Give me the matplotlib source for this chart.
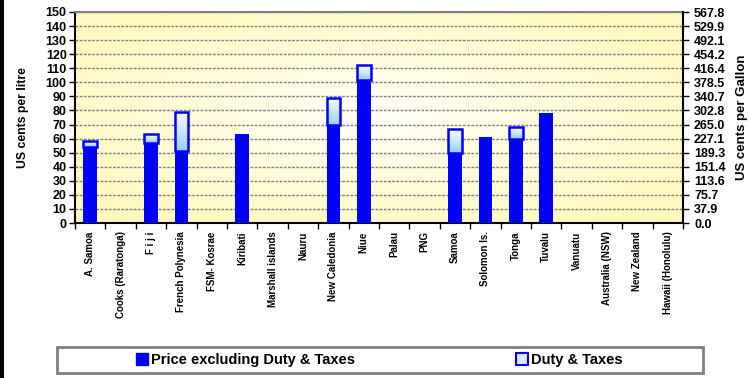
import numpy as np
import matplotlib
matplotlib.use("Agg")
import matplotlib.pyplot as plt
from matplotlib.patches import Rectangle

plt.rcParams["font.family"] = ["Liberation Sans", "DejaVu Sans"]
plt.rcParams["font.weight"] = "bold"

countries = ["A. Samoa", "Cooks (Raratonga)", "F i j i", "French Polynesia", "FSM- Kosrae",
             "Kiribati", "Marshall islands", "Nauru", "New Caledonia", "Niue", "Palau", "PNG",
             "Samoa", "Solomon Is.", "Tonga", "Tuvalu", "Vanuatu", "Australia (NSW)",
             "New Zealand", "Hawaii (Honolulu)"]
price_ex = [54, 0, 57, 51, 0, 63, 0, 0, 70, 102, 0, 0, 50, 61, 60, 78, 0, 0, 0, 0]
duty = [4, 0, 6, 28, 0, 0, 0, 0, 19, 10, 0, 0, 17, 0, 8, 0, 0, 0, 0, 0]
# 1 US gallon = 3.785 litres
ml_per_gallon = 3785

fig = plt.figure(figsize=(7.49, 3.78), dpi=100)
ax = fig.add_axes([75 / 749, 1 - 223 / 378, 608 / 749, 211 / 378])

# pale yellow background with lighter centre
yy, xx = np.mgrid[-1:1:200j, -1:1:200j]
r = np.clip(np.sqrt(xx ** 2 + yy ** 2) / 1.2, 0, 1)
c0 = np.array([1.0, 1.0, 0.97])
c1 = np.array([1.0, 0.98, 0.75])
bg = c0 + (c1 - c0) * r[..., None]
ax.imshow(bg, extent=[-0.5, len(countries) - 0.5, 0, 150], aspect="auto", zorder=0)

x = np.arange(len(countries))
w = 0.45
ax.bar(x, price_ex, width=w, color="#0000ff", edgecolor="none", zorder=3)

# duty segments: gradient fill with blue outline
grad = np.linspace(1, 0, 100)[:, None]
gcol = np.dstack([0.6 + 0.4 * grad, 0.8 + 0.2 * grad, np.ones_like(grad)])
dx = [xi for xi, d in zip(x, duty) if d > 0]
db = [b for b, d in zip(price_ex, duty) if d > 0]
dh = [d for d in duty if d > 0]
for xi, b, d in zip(dx, db, dh):
    ax.imshow(gcol, extent=[xi - w / 2, xi + w / 2, b, b + d], aspect="auto", zorder=3)
ax.bar(dx, dh, bottom=db, width=w, facecolor="none", edgecolor="#0000ff",
       linewidth=1.8, zorder=4)

ax.set_xlim(-0.5, len(countries) - 0.5)
ax.set_ylim(0, 150)
ax.set_yticks(np.arange(0, 151, 10))
for yv in np.arange(10, 151, 10):
    ax.axhline(yv, color="#808080", linestyle=(0, (2, 1)), linewidth=1, zorder=1)

ax.set_xticks(x)
ax.set_xticklabels(countries, rotation=90, fontsize=7, fontweight="bold")
ax.set_xticks(np.arange(-0.5, len(countries), 1), minor=True)
ax.tick_params(axis="x", which="major", length=0, pad=6)
ax.tick_params(axis="x", which="minor", length=4, width=1, direction="out")
ax.tick_params(axis="y", labelsize=9, length=4, width=1, pad=2)
for lb in ax.get_yticklabels():
    lb.set_fontweight("bold")
ax.set_ylabel("US cents per litre", fontsize=8.8, fontweight="bold", labelpad=12)

ax.spines["top"].set_color("#808080")
ax.spines["top"].set_linewidth(1.5)
ax.spines["right"].set_visible(False)
ax.spines["left"].set_linewidth(1.5)
ax.spines["bottom"].set_linewidth(1.5)

ax2 = ax.twinx()
ax2.set_ylim(0, 150)
ticks = np.arange(0, 151, 10)
ax2.set_yticks(ticks)
ax2.set_yticklabels(["%.1f" % ((int(v) * ml_per_gallon + 50) // 100 / 10) for v in ticks],
                    fontsize=9, fontweight="bold")
ax2.tick_params(axis="y", length=4, width=1, pad=4)
ax2.set_ylabel("US cents per Gallon", fontsize=9.5, fontweight="bold", labelpad=7)
for s in ["top", "left", "bottom"]:
    ax2.spines[s].set_visible(False)
ax2.spines["right"].set_linewidth(1.5)

# legend box spanning the width, with two entries
fig.add_artist(Rectangle((57 / 749, 1 - 373 / 378), 646 / 749, 26 / 378,
                         transform=fig.transFigure, facecolor="white",
                         edgecolor="#808080", linewidth=2))
h1 = Rectangle((0, 0), 1, 1, facecolor="#0000ff", edgecolor="#0000ff")
h2 = Rectangle((0, 0), 1, 1, facecolor="#dde8ff", edgecolor="#0000ff", linewidth=1.5)
for h, lab, xpos in [(h1, "Price excluding Duty & Taxes", 136), (h2, "Duty & Taxes", 516)]:
    fig.legend([h], [lab], loc="center left", bbox_to_anchor=(xpos / 749, 1 - 360 / 378),
               frameon=False, handlelength=0.85, handleheight=0.85, handletextpad=0.15,
               borderpad=0, borderaxespad=0, prop={"weight": "bold", "size": 10.5})

fig.add_artist(Rectangle((0, 0), 4 / 749, 1, transform=fig.transFigure,
                         facecolor="black", edgecolor="none"))

fig.savefig("out.png", dpi=100)
